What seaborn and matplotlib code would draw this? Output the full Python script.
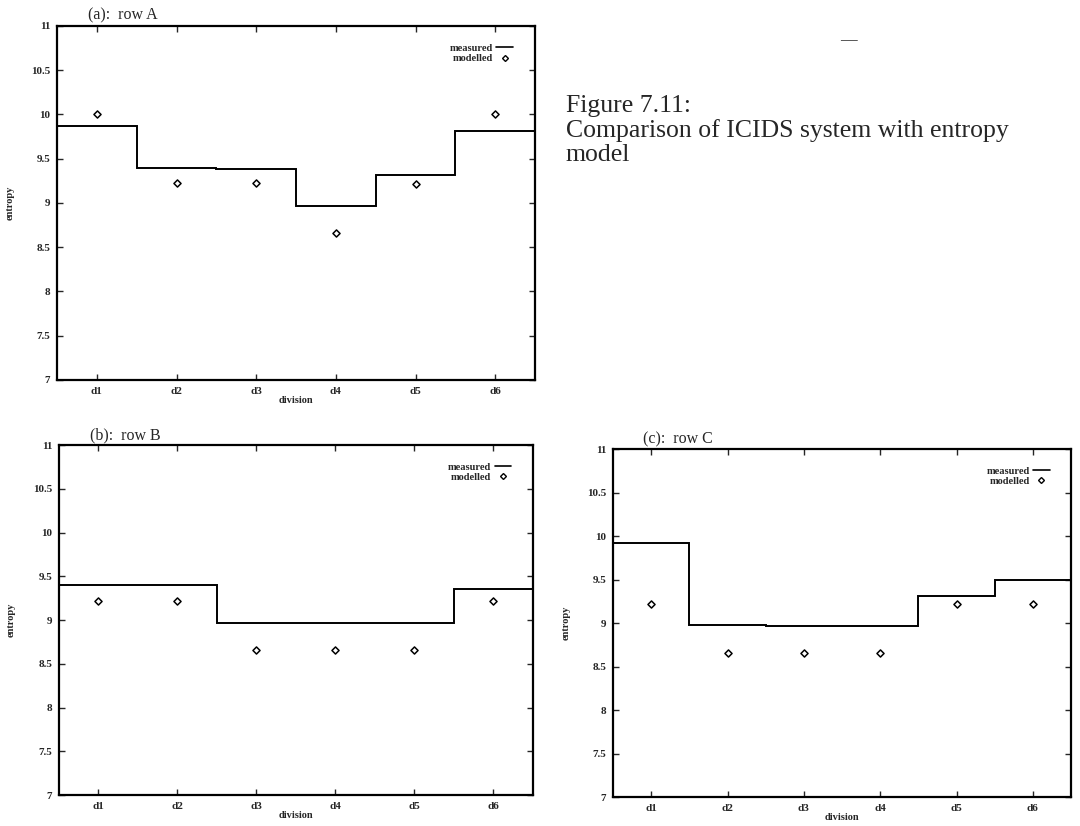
import numpy as np
import pandas as pd
import seaborn as sns
import matplotlib.pyplot as plt
from matplotlib.lines import Line2D
from matplotlib.ticker import FuncFormatter

divisions = ["d1", "d2", "d3", "d4", "d5", "d6"]

measured_a = [9.87, 9.40, 9.38, 8.97, 9.32, 9.81]
modelled_a = [10.01, 9.22, 9.22, 8.66, 9.21, 10.0]

measured_b = [9.40, 9.40, 8.97, 8.97, 8.97, 9.35]
modelled_b = [9.22, 9.22, 8.66, 8.66, 8.66, 9.22]

measured_c = [9.92, 8.98, 8.96, 8.96, 9.31, 9.49]
modelled_c = [9.22, 8.66, 8.66, 8.66, 9.22, 9.22]

panel_titles = ["(a):  row A", "(b):  row B", "(c):  row C"]
y_ticks = [7, 7.5, 8, 8.5, 9, 9.5, 10, 10.5, 11]

caption = ["Figure 7.11:", "Comparison of ICIDS system with entropy", "model"]

sns.set_style("ticks")
plt.rcParams["font.family"] = ["Liberation Serif", "DejaVu Serif"]

fig = plt.figure(figsize=(10.8, 8.26), dpi=100)
rects = [
    [0.0528, 0.540, 0.4426, 0.4286],
    [0.0546, 0.0375, 0.4389, 0.4237],
    [0.5676, 0.0351, 0.4241, 0.4213],
]
panels = [
    (measured_a, modelled_a),
    (measured_b, modelled_b),
    (measured_c, modelled_c),
]

pos = np.arange(1, len(divisions) + 1)
edges = np.arange(0.5, len(divisions) + 1)

for rect, (meas, mod), title in zip(rects, panels, panel_titles):
    ax = fig.add_axes(rect)
    df = pd.DataFrame({"pos": pos, "measured": meas, "modelled": mod})

    # measured as steps spanning each division
    ax.stairs(df["measured"], edges, baseline=None, color="black", linewidth=1.4)
    sns.scatterplot(data=df, x="pos", y="modelled", ax=ax, marker="D", s=13,
                    facecolor="white", edgecolor="black", linewidth=1.1,
                    zorder=3)

    ax.set_xlim(0.5, 6.5)
    ax.set_ylim(7, 11)
    ax.set_xticks(pos)
    ax.set_xticklabels(divisions)
    ax.set_yticks(y_ticks)
    ax.yaxis.set_major_formatter(FuncFormatter(lambda v, p: f"{v:g}"))
    ax.tick_params(direction="in", top=True, right=True, length=4, width=1,
                   labelsize=8, pad=5)
    for lab in ax.get_xticklabels() + ax.get_yticklabels():
        lab.set_fontweight("bold")
    for sp in ax.spines.values():
        sp.set_linewidth(1.6)
        sp.set_color("black")

    ax.set_xlabel("division", fontsize=7.5, fontweight="bold", labelpad=0)
    ax.set_ylabel("entropy", fontsize=7.5, fontweight="bold", labelpad=12)
    ax.text(0.065, 1.006, title, transform=ax.transAxes, fontsize=11.5,
            ha="left", va="bottom")

    handles = [
        Line2D([], [], color="black", linewidth=1.2),
        Line2D([], [], color="black", marker="D", markersize=3, linestyle="none",
               markerfacecolor="white", markeredgewidth=1),
    ]
    ax.legend(handles, ["measured", "modelled"], loc="upper right",
              bbox_to_anchor=(0.965, 0.965), frameon=False,
              markerfirst=False, handlelength=1.6, handletextpad=0.3,
              labelspacing=0.1, borderpad=0,
              prop={"size": 7.5, "weight": "bold"})

for i, line in enumerate(caption):
    fig.text(0.524, 0.872 - i * 0.030, line, fontsize=18.5, ha="left", va="center")

fig.text(0.786, 0.952, "—", fontsize=12, ha="center", va="center")

fig.savefig("out.png", dpi=100)
